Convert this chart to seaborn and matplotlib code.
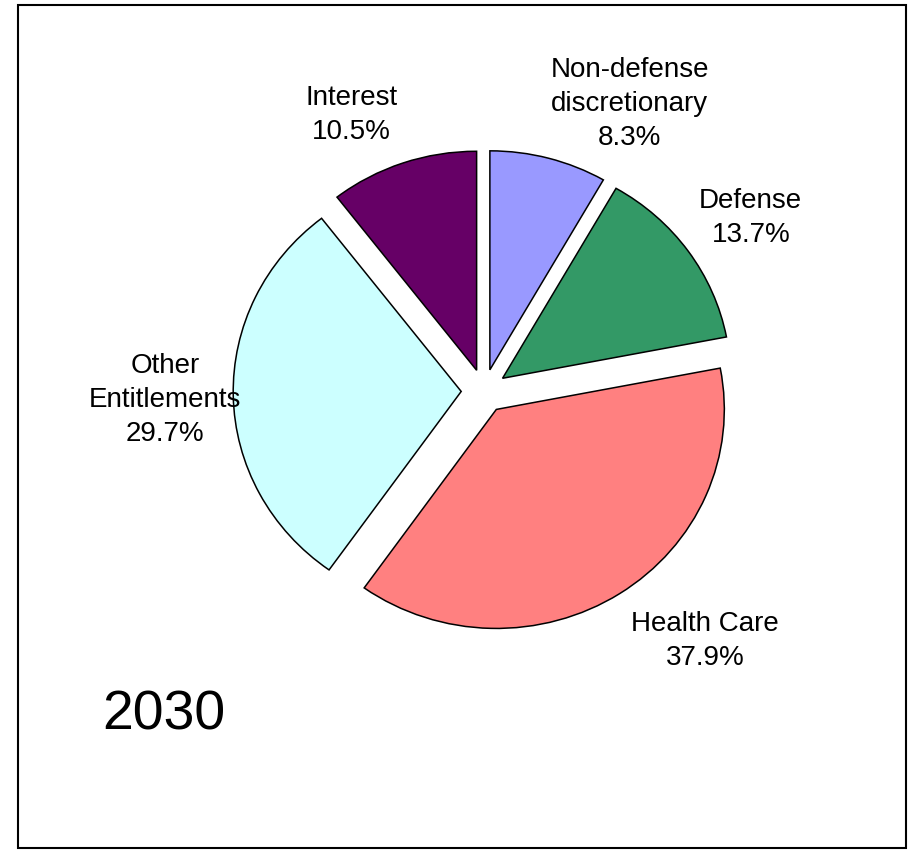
import matplotlib
matplotlib.use("Agg")
import matplotlib.pyplot as plt
from matplotlib.patches import Rectangle
import seaborn as sns

# data (clockwise from 12 o'clock)
categories = ["Non-defense\ndiscretionary", "Defense", "Health Care",
              "Other\nEntitlements", "Interest"]
shares = [8.3, 13.7, 37.9, 29.7, 10.5]
colors = ["#9999FF", "#339966", "#FF8080", "#CCFFFF", "#660066"]
year = "2030"

# where each label block sits (in pie radii, relative to the centre)
label_spots = [(0.64, 1.31), (1.17, 0.79), (0.97, -1.14), (-1.40, -0.04), (-0.58, 1.26)]


def main():
    sns.set_theme(style="white")
    plt.rcParams["font.family"] = ["Liberation Sans", "DejaVu Sans"]

    fig = plt.figure(figsize=(9.09, 8.5), dpi=100)
    ax = fig.add_axes([0, 0, 1, 1])

    wedges, texts = ax.pie(
        shares,
        labels=categories,
        colors=colors,
        startangle=90,
        counterclock=False,
        explode=[0.1] * len(shares),
        radius=1.0,
        wedgeprops=dict(edgecolor="black", linewidth=1.1),
        textprops=dict(fontsize=20, color="black"),
    )

    for t, lab, val, pos in zip(texts, categories, shares, label_spots):
        t.set_text(f"{lab}\n{val:.1f}%")
        t.set_position(pos)
        t.set_ha("center")
        t.set_va("center")
        t.set_multialignment("center")
        t.set_linespacing(1.4)

    # the original pie is slightly squashed vertically
    ax.set_aspect("auto")
    ax.set_xlim(-484 / 228, (909 - 484) / 228)
    ax.set_ylim(-(850 - 391) / 219, 391 / 219)
    ax.axis("off")

    fig.text(164 / 909, 1 - 716 / 850, year, fontsize=40, color="black",
             ha="center", va="center")

    fig.patches.append(Rectangle((18 / 909, 1 - 848 / 850), 888 / 909, 843 / 850,
                                 transform=fig.transFigure, fill=False,
                                 edgecolor="black", linewidth=1.5))

    fig.savefig("out.png", dpi=100, facecolor="white")


if __name__ == "__main__":
    main()
